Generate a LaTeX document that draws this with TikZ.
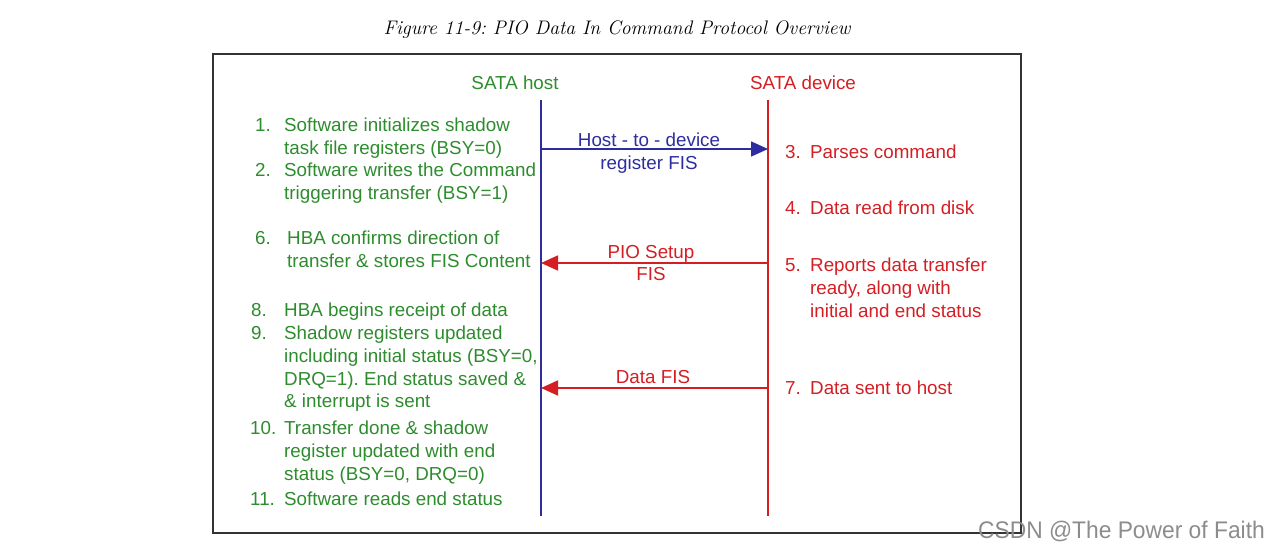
\documentclass[tikz,border=0pt]{standalone}
\usepackage{fontspec}
\setsansfont{Liberation Sans}
\usetikzlibrary{arrows.meta}
\definecolor{hostgreen}{RGB}{45,140,45}
\definecolor{devred}{RGB}{212,30,35}
\definecolor{hostblue}{RGB}{45,45,160}
\frenchspacing
\begin{document}
\begin{tikzpicture}[x=1pt,y=-1pt,
  lbl/.style={font=\sffamily\fontsize{18.8}{22}\selectfont, inner sep=0pt, anchor=base west},
  glbl/.style={lbl, text=hostgreen},
  rlbl/.style={lbl, text=devred},
  blbl/.style={lbl, text=hostblue},
  lifeline/.style={line width=1.6pt},
  msg/.style={line width=1.6pt, -{Triangle[length=17pt,width=15pt]}},
  mlbl/.style={font=\sffamily\fontsize{18.8}{22}\selectfont, inner sep=0pt, anchor=base}
]
\useasboundingbox (0,0) rectangle (1269,551);
% title
\node[font=\itshape\fontsize{19.6}{24}\selectfont, inner sep=0pt, anchor=base] (title) at (617,35) {Figure 11-9: PIO Data In Command Protocol Overview};
% frame
\draw[line width=1.3pt, black!80] (213,54) rectangle (1021,533);
% headers
\node[lbl, text=hostgreen, anchor=base] (hosthdr) at (515,89) {SATA host};
\node[lbl, text=devred, anchor=base] (devhdr) at (803,89) {SATA device};
% lifelines
\coordinate (hostTop) at (541,100);
\coordinate (hostBot) at (541,516);
\coordinate (devTop) at (768,100);
\coordinate (devBot) at (768,516);
\draw[lifeline, hostblue] (hostTop) -- (hostBot);
\draw[lifeline, devred] (devTop) -- (devBot);
% messages
\coordinate (h1) at (541,149); \coordinate (d1) at (768,149);
\coordinate (h2) at (541,263); \coordinate (d2) at (768,263);
\coordinate (h3) at (541,388); \coordinate (d3) at (768,388);
\draw[msg, hostblue] (h1) -- (d1);
\draw[msg, devred] (d2) -- (h2);
\draw[msg, devred] (d3) -- (h3);
\node[mlbl, text=hostblue] (m1a) at (649,146) {Host - to - device};
\node[mlbl, text=hostblue] (m1b) at (649,169) {register FIS};
\node[mlbl, text=devred] (m2a) at (651,258) {PIO Setup};
\node[mlbl, text=devred] (m2b) at (651,280) {FIS};
\node[mlbl, text=devred] (m3) at (653,383) {Data FIS};
% left (host) items
\node[glbl] (n1) at (255,131) {1.};
\node[glbl] (t1a) at (284,131) {Software initializes shadow};
\node[glbl] (t1b) at (284,154) {task file registers (BSY=0)};
\node[glbl] (n2) at (255,176) {2.};
\node[glbl] (t2a) at (284,176) {Software writes the Command};
\node[glbl] (t2b) at (284,199) {triggering transfer (BSY=1)};
\node[glbl] (n6) at (255,244) {6.};
\node[glbl] (t6a) at (287,244) {HBA confirms direction of};
\node[glbl] (t6b) at (287,267) {transfer \& stores FIS Content};
\node[glbl] (n8) at (251,316) {8.};
\node[glbl] (t8) at (284,316) {HBA begins receipt of data};
\node[glbl] (n9) at (251,339) {9.};
\node[glbl] (t9a) at (284,339) {Shadow registers updated};
\node[glbl] (t9b) at (284,362) {including initial status (BSY=0,};
\node[glbl] (t9c) at (284,385) {DRQ=1). End status saved \&};
\node[glbl] (t9d) at (284,407) {\& interrupt is sent};
\node[glbl] (n10) at (250,434) {10.};
\node[glbl] (t10a) at (284,434) {Transfer done \& shadow};
\node[glbl] (t10b) at (284,457) {register updated with end};
\node[glbl] (t10c) at (284,480) {status (BSY=0, DRQ=0)};
\node[glbl] (n11) at (250,505) {11.};
\node[glbl] (t11) at (284,505) {Software reads end status};
% right (device) items
\node[rlbl] (n3) at (785,158) {3.};
\node[rlbl] (t3) at (810,158) {Parses command};
\node[rlbl] (n4) at (785,214) {4.};
\node[rlbl] (t4) at (810,214) {Data read from disk};
\node[rlbl] (n5) at (785,271) {5.};
\node[rlbl] (t5a) at (810,271) {Reports data transfer};
\node[rlbl] (t5b) at (810,294) {ready, along with};
\node[rlbl] (t5c) at (810,317) {initial and end status};
\node[rlbl] (n7) at (785,394) {7.};
\node[rlbl] (t7) at (810,394) {Data sent to host};
% watermark
\node[font=\sffamily\fontsize{24}{26}\selectfont, text=black!45, inner sep=0pt, anchor=base east, xscale=0.95] (wm) at (1265,538) {CSDN @The Power of Faith};
\end{tikzpicture}
\end{document}
